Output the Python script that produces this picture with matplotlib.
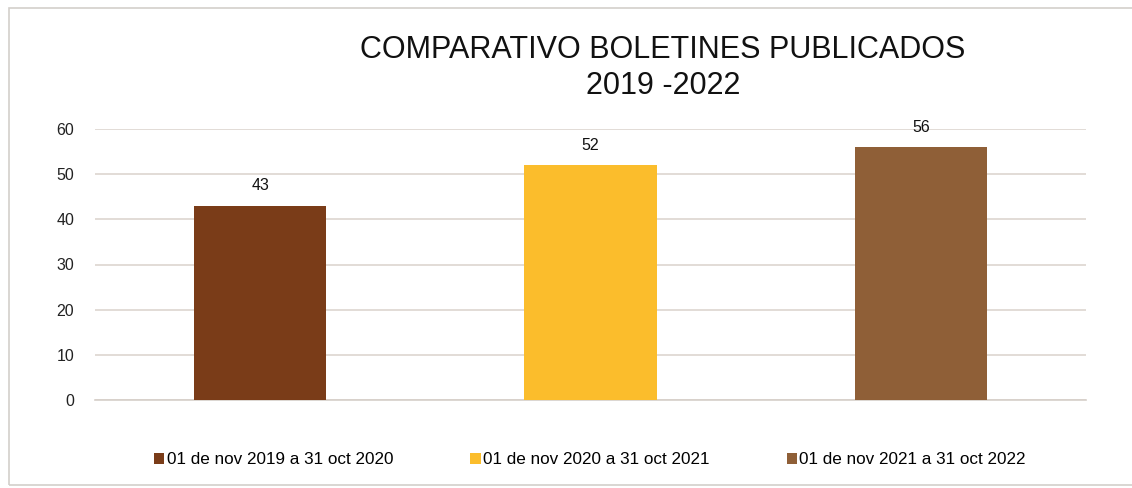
import matplotlib.pyplot as plt
import matplotlib.patches as patches

plt.rcParams['font.family'] = ['Liberation Sans', 'DejaVu Sans']

# Datos
periodos = ['01 de nov 2019 a 31 oct 2020',
            '01 de nov 2020 a 31 oct 2021',
            '01 de nov 2021 a 31 oct 2022']
boletines = [43, 52, 56]
colores = ['#7a3c18', '#fbbd2c', '#8f5f37']
yticks = [0, 10, 20, 30, 40, 50, 60]

W, H = 1132, 488
fig = plt.figure(figsize=(W / 100, H / 100), dpi=100)
ax = fig.add_axes([95 / W, 1 - 400 / H, (1086 - 95) / W, (400 - 129) / H])

# marco exterior
marco = patches.Rectangle((9 / W, 3 / H), 1.2, 1 - 11 / H, transform=fig.transFigure,
                          fill=False, edgecolor='#d3cfcb', linewidth=1.2)
fig.patches.append(marco)

x = range(len(periodos))
barras = ax.bar(x, boletines, width=0.4, color=colores, label=periodos, zorder=3)
ax.bar_label(barras, padding=9, fontsize=11.5, color='#111111')

ax.set_xlim(-0.5, len(periodos) - 0.5)
ax.set_ylim(0, 60)
ax.set_yticks(yticks)
ax.set_xticks([])
ax.tick_params(axis='y', length=0, pad=15, labelsize=11.5, labelcolor='#222222')
ax.grid(axis='y', color='#ddd6d0', linewidth=1.2, zorder=0)
for s in ['top', 'right', 'left']:
    ax.spines[s].set_visible(False)
ax.spines['bottom'].set_color('#d6cfc9')
ax.spines['bottom'].set_linewidth(1.2)

fig.text(663 / W, 1 - 68 / H, 'COMPARATIVO BOLETINES PUBLICADOS\n2019 -2022',
         ha='center', va='center', fontsize=22, linespacing=1.25, color='#111111')

fig.legend(loc='center', bbox_to_anchor=(590 / W, 1 - 460 / H), ncol=3,
           frameon=False, fontsize=12.3, handlelength=0.6, handleheight=0.6,
           handletextpad=0.15, columnspacing=4.5)

fig.savefig('out.png', dpi=100)
